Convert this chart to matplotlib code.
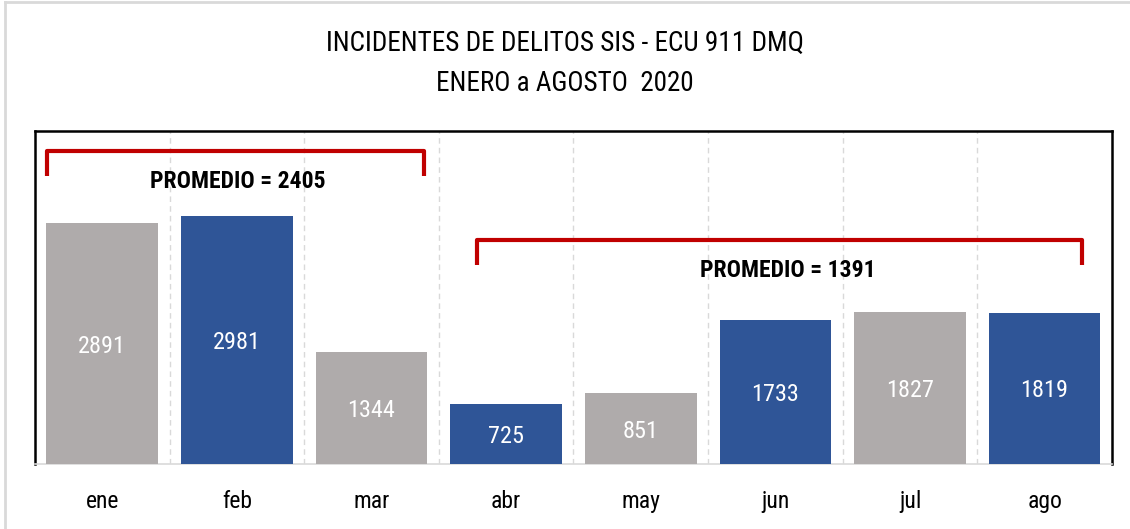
import matplotlib.pyplot as plt
from matplotlib.lines import Line2D

plt.rcParams['font.family'] = ['Roboto Condensed', 'Liberation Sans Narrow', 'Roboto', 'DejaVu Sans']

# data
meses = ["ene", "feb", "mar", "abr", "may", "jun", "jul", "ago"]
incidentes = [2891, 2981, 1344, 725, 851, 1733, 1827, 1819]
promedios = [2405, 1391]
titulo = "INCIDENTES DE DELITOS SIS - ECU 911 DMQ\nENERO a AGOSTO  2020"

gris = "#AFABAB"
azul = "#2F5597"
rojo = "#C00000"
colores = [gris, azul, gris, azul, gris, azul, gris, azul]

fig = plt.figure(figsize=(11.3, 5.29), dpi=100)
ax = fig.add_axes([0.031, 0.1229, 0.953, 0.6295])

x = list(range(len(meses)))
bars = ax.bar(x, incidentes, width=0.83, color=colores, zorder=3)
for b, v in zip(bars, incidentes):
    ax.text(b.get_x() + b.get_width() / 2, v / 2, str(v), ha="center", va="center_baseline",
            color="white", fontsize=17.5, zorder=4)

# dashed separators between months
for i in range(len(meses) - 1):
    ax.axvline(i + 0.5, color="#D9D9D9", linestyle=(0, (4, 3)), linewidth=1, zorder=1)

ax.set_xlim(-0.5, len(meses) - 0.5)
ax.set_ylim(0, 4000)
ax.set_yticks([])
ax.set_xticks(x)
ax.set_xticklabels(meses, fontsize=17)
ax.tick_params(axis="x", length=0, pad=19)

for s in ["left", "top", "right"]:
    ax.spines[s].set_color("black")
    ax.spines[s].set_linewidth(1.8)
ax.spines["bottom"].set_color("#D9D9D9")
ax.spines["bottom"].set_linewidth(1.2)

# brackets with averages
def corchete(x0, x1, ytop, ybot, texto, tx, ty):
    ax.plot([x0, x0, x1, x1], [ybot, ytop, ytop, ybot], color=rojo, linewidth=3,
            solid_joinstyle="round", solid_capstyle="butt", zorder=5)
    ax.text(tx, ty, texto, ha="center", va="center", fontsize=17, fontweight="bold", zorder=5)

corchete(-0.41, 2.39, 3760, 3459, "PROMEDIO = %d" % promedios[0], 1.01, 3390)
corchete(2.78, 7.28, 2691, 2390, "PROMEDIO = %d" % promedios[1], 5.09, 2330)

fig.text(0.5, 0.88, titulo, ha="center", va="center", fontsize=19.5, linespacing=1.6)

# light frame of the chart area
fig.add_artist(Line2D([5 / 1130, 5 / 1130], [0, 1 - 2 / 529], color="#D9D9D9", linewidth=2))
fig.add_artist(Line2D([5 / 1130, 1], [1 - 2 / 529, 1 - 2 / 529], color="#D9D9D9", linewidth=2))

fig.savefig("out.png", dpi=100)
